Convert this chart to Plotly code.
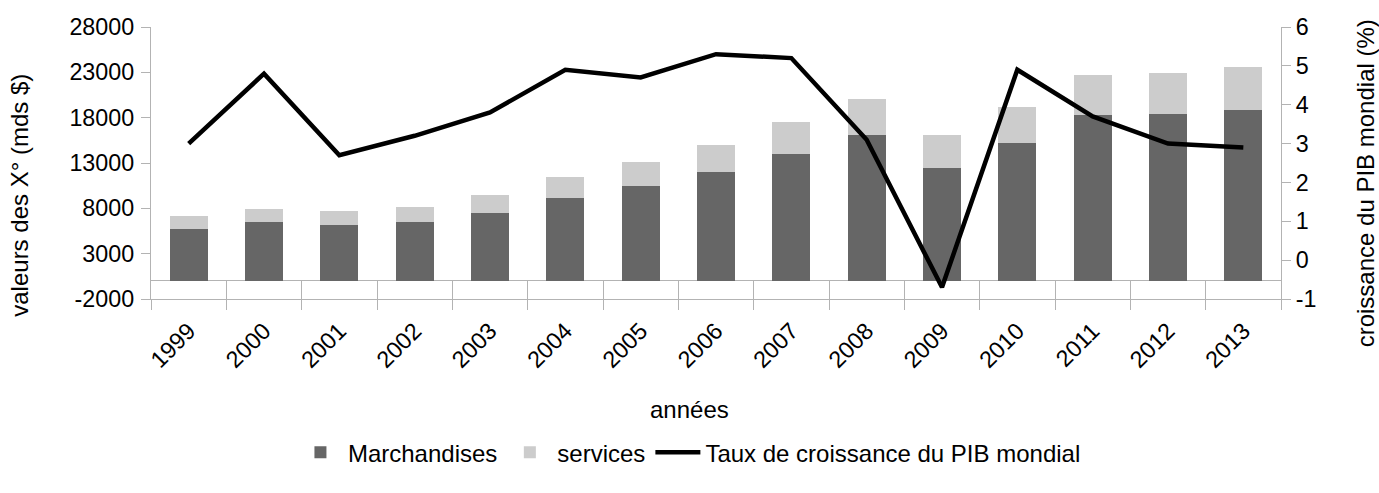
import plotly.graph_objects as go

annees = ["1999", "2000", "2001", "2002", "2003", "2004", "2005", "2006",
          "2007", "2008", "2009", "2010", "2011", "2012", "2013"]
marchandises = [5700, 6450, 6190, 6490, 7480, 9150, 10450, 12000,
                13970, 16070, 12450, 15200, 18270, 18380, 18820]
services = [1450, 1480, 1510, 1650, 1980, 2300, 2650, 2970,
            3520, 3950, 3620, 3950, 4400, 4500, 4720]
croissance_pib = [3.0, 4.8, 2.7, 3.2, 3.8, 4.9, 4.7, 5.3,
                  5.2, 3.1, -0.7, 4.9, 3.7, 3.0, 2.9]
ticks_gauche = [-2000, 3000, 8000, 13000, 18000, 23000, 28000]
ticks_droite = [-1, 0, 1, 2, 3, 4, 5, 6]

FONT = "Liberation Sans, Arial, sans-serif"
GRID = "#b3b3b3"
FS = 24
FT = 23.3

fig = go.Figure()
fig.add_trace(go.Bar(x=annees, y=marchandises, name="Marchandises",
                     marker=dict(color="#666666", line=dict(width=0))))
fig.add_trace(go.Bar(x=annees, y=services, name="services",
                     marker=dict(color="#cccccc", line=dict(width=0))))
fig.add_trace(go.Scatter(x=annees, y=croissance_pib, name="Taux de croissance du PIB mondial",
                         mode="lines", line=dict(color="#000000", width=4.5),
                         yaxis="y2"))
# invisible helper trace on an overlaid x axis to draw the outer category ticks
fig.add_trace(go.Scatter(x=annees, y=[None] * len(annees), xaxis="x2",
                         showlegend=False, hoverinfo="skip"))

fig.update_layout(
    width=1379, height=493,
    margin=dict(l=151, r=98, t=27, b=194, autoexpand=False),
    paper_bgcolor="white", plot_bgcolor="white",
    font=dict(family=FONT, size=FS, color="#000000"),
    barmode="stack", bargap=0.495,
    showlegend=True,
    legend=dict(orientation="h", x=0.4765, xanchor="center", y=-0.565, yanchor="middle",
                font=dict(size=FS), itemwidth=45, traceorder="normal",
                bgcolor="rgba(0,0,0,0)"),
    xaxis=dict(type="category", range=[-0.5, 14.5], showgrid=False, automargin=False,
               showline=True, linecolor=GRID, linewidth=1.3,
               ticks="inside", tickson="boundaries", ticklen=19, tickcolor=GRID, tickwidth=1.3,
               tickangle=-45, tickfont=dict(size=FT), ticklabelstandoff=8),
    xaxis2=dict(type="category", range=[-0.5, 14.5], overlaying="x", side="bottom",
                anchor="y", showgrid=False, showline=False, automargin=False,
                ticks="outside", tickson="boundaries", ticklen=10, tickcolor=GRID, tickwidth=1.3,
                showticklabels=False),
    yaxis=dict(range=[-2000, 28000], tickmode="array", tickvals=ticks_gauche,
               ticktext=[str(v) for v in ticks_gauche], showgrid=False, automargin=False,
               zeroline=True, zerolinecolor=GRID, zerolinewidth=1.3,
               showline=True, linecolor=GRID, linewidth=1.3,
               ticks="outside", ticklen=9, tickcolor=GRID, tickwidth=1.3,
               tickfont=dict(size=FT), ticklabelstandoff=2),
    yaxis2=dict(range=[-1, 6], tickmode="array", tickvals=ticks_droite,
                ticktext=[str(v) for v in ticks_droite], overlaying="y", side="right",
                showgrid=False, zeroline=False, automargin=False,
                showline=True, linecolor=GRID, linewidth=1.3,
                ticks="outside", ticklen=9, tickcolor=GRID, tickwidth=1.3,
                tickfont=dict(size=FT)),
    annotations=[
        dict(text="années", xref="paper", yref="paper", x=0.4765, y=-0.405,
             xanchor="center", yanchor="middle", showarrow=False, font=dict(size=FS)),
        dict(text="valeurs des X° (mds $)", xref="paper", yref="paper", x=-0.116, y=0.383,
             xanchor="center", yanchor="middle", textangle=-90, showarrow=False,
             font=dict(size=FS)),
        dict(text="croissance du PIB mondial (%)", xref="paper", yref="paper", x=1.0745, y=0.426,
             xanchor="center", yanchor="middle", textangle=-90, showarrow=False,
             font=dict(size=FS)),
    ],
)

fig.write_html("out.html", config={"displayModeBar": False},
               post_script="document.body.style.margin='0';document.body.style.padding='0';")
